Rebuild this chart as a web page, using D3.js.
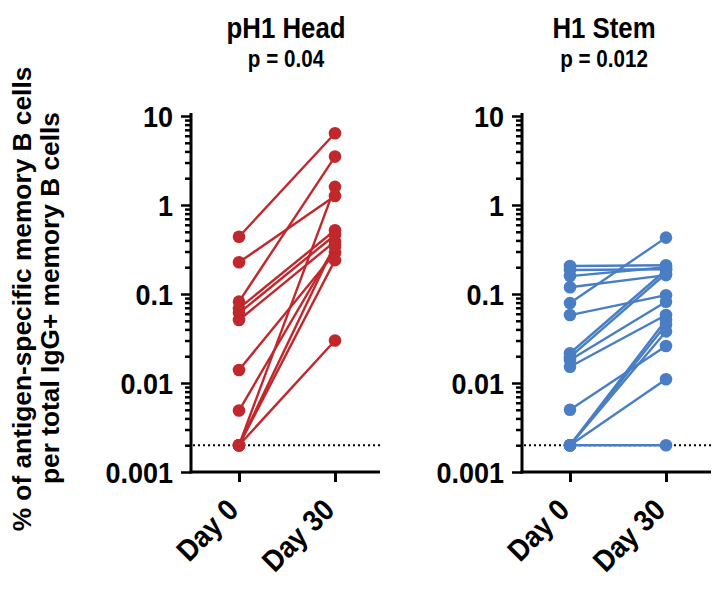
<!DOCTYPE html>
<html>
<head>
<meta charset="utf-8">
<script src="https://cdn.jsdelivr.net/npm/d3@7"></script>
<style>
  html, body { margin: 0; padding: 0; background: #fff; }
  svg { display: block; }
  text { font-family: "Liberation Sans", Arial, Helvetica, sans-serif; font-weight: bold; fill: #000; }
</style>
</head>
<body>
<svg id="chart" width="718" height="595"></svg>
<script>
// ---- data ----
const days = ["Day 0", "Day 30"];
const majorTicks = [10, 1, 0.1, 0.01, 0.001];
const majorTickLabels = ["10", "1", "0.1", "0.01", "0.001"];
const detectionLimit = 0.002;

const panelTitles = ["pH1 Head", "H1 Stem"];
const pValues = ["p = 0.04", "p = 0.012"];

const headDay0  = [0.44, 0.227, 0.082, 0.069, 0.061, 0.051, 0.014, 0.0049, 0.002, 0.002, 0.002, 0.002];
const headDay30 = [6.4,  1.26,  3.5,   0.52,  0.46,  0.39,  0.29,  0.34,   1.6,   0.24,  0.030, 0.36];

const stemDay0  = [0.206, 0.186, 0.159, 0.119, 0.079, 0.058, 0.0216, 0.0195, 0.0181, 0.0152, 0.005, 0.002, 0.002, 0.002, 0.002, 0.002];
const stemDay30 = [0.21,  0.19,  0.20,  0.163, 0.43,  0.097, 0.186,  0.17,   0.082,  0.058,  0.026, 0.002, 0.011, 0.038, 0.045, 0.051];

const colors = ["#c0282d", "#4a7ec4"];

// ---- layout ----
const svg = d3.select("#chart");
const yTop = 116, yBottom = 472;
const condTitle = 0.86, condTick = 0.9;
const panels = [
  { axisX: 191, endX: 380, x0: 239, x1: 335, titleX: 286, d0: headDay0, d30: headDay30, color: colors[0], title: panelTitles[0], p: pValues[0] },
  { axisX: 522, endX: 711, x0: 570, x1: 666, titleX: 604, d0: stemDay0, d30: stemDay30, color: colors[1], title: panelTitles[1], p: pValues[1] }
];

const y = d3.scaleLog().domain([0.001, 10]).range([yBottom, yTop]);
const minorTicks = [];
[0.001, 0.01, 0.1, 1].forEach(dec => { for (let k = 2; k <= 9; k++) minorTicks.push(dec * k); });

panels.forEach(P => {
  const g = svg.append("g");
  const x = d3.scalePoint().domain(days).range([P.x0, P.x1]);

  // titles
  g.append("text").attr("transform", `translate(${P.titleX},38) scale(${condTitle},1)`).attr("text-anchor", "middle")
    .style("font-size", "30px").text(P.title);
  g.append("text").attr("transform", `translate(${P.titleX},67) scale(${condTitle},1)`).attr("text-anchor", "middle")
    .style("font-size", "24px").text(P.p);

  // minor ticks
  const minorAxis = d3.axisLeft(y).tickValues(minorTicks).tickSize(6).tickFormat("");
  const gm = g.append("g").attr("transform", `translate(${P.axisX},0)`).call(minorAxis);
  gm.select(".domain").remove();
  gm.selectAll(".tick line").attr("stroke", "#000").attr("stroke-width", 2.5);

  // major ticks
  const majorAxis = d3.axisLeft(y).tickValues(majorTicks).tickSize(10).tickPadding(8)
    .tickFormat((d, i) => majorTickLabels[i]);
  const gM = g.append("g").attr("transform", `translate(${P.axisX},0)`).call(majorAxis);
  gM.select(".domain").remove();
  gM.selectAll(".tick line").attr("stroke", "#000").attr("stroke-width", 2.5);
  gM.selectAll(".tick text").attr("font-family", null)
    .attr("transform", `scale(${condTick},1)`).attr("x", -18 / condTick)
    .style("font-size", "30px").style("font-weight", "bold").attr("dy", "0.36em");

  // axis lines
  g.append("line").attr("x1", P.axisX).attr("x2", P.axisX).attr("y1", yTop - 3).attr("y2", yBottom + 1.5)
    .attr("stroke", "#000").attr("stroke-width", 3);
  g.append("line").attr("x1", P.axisX - 1.5).attr("x2", P.endX).attr("y1", yBottom).attr("y2", yBottom)
    .attr("stroke", "#000").attr("stroke-width", 3);

  // x axis ticks
  const xAxis = d3.axisBottom(x).tickSize(10).tickFormat("");
  const gx = g.append("g").attr("transform", `translate(0,${yBottom})`).call(xAxis);
  gx.select(".domain").remove();
  gx.selectAll(".tick line").attr("stroke", "#000").attr("stroke-width", 3);

  // x labels rotated
  g.selectAll("text.xl").data(days).enter().append("text").attr("class", "xl")
    .attr("transform", d => `translate(${x(d) + 1},${yBottom + 40}) rotate(-45) scale(${condTick},1)`)
    .attr("text-anchor", "end")
    .style("font-size", "30px").text(d => d);

  // detection limit dotted line
  g.append("line").attr("x1", P.axisX + 2).attr("x2", P.endX).attr("y1", y(detectionLimit)).attr("y2", y(detectionLimit))
    .attr("stroke", "#000").attr("stroke-width", 2).attr("stroke-dasharray", "2,3");

  // paired lines
  const pairs = P.d0.map((v, i) => [v, P.d30[i]]);
  g.selectAll("line.pair").data(pairs).enter().append("line").attr("class", "pair")
    .attr("x1", x(days[0])).attr("x2", x(days[1]))
    .attr("y1", d => y(d[0])).attr("y2", d => y(d[1]))
    .attr("stroke", P.color).attr("stroke-width", 2.4);

  // points
  g.selectAll("circle.d0").data(P.d0).enter().append("circle").attr("class", "d0")
    .attr("cx", x(days[0])).attr("cy", d => y(d)).attr("r", 6.3).attr("fill", P.color);
  g.selectAll("circle.d30").data(P.d30).enter().append("circle").attr("class", "d30")
    .attr("cx", x(days[1])).attr("cy", d => y(d)).attr("r", 6.3).attr("fill", P.color);
});

// y-axis title (two lines)
svg.append("text").attr("transform", "translate(31,299) rotate(-90)").attr("text-anchor", "middle")
  .style("font-size", "26.3px").text("% of antigen-specific memory B cells");
svg.append("text").attr("transform", "translate(59,298) rotate(-90)").attr("text-anchor", "middle")
  .style("font-size", "26.3px").text("per total IgG+ memory B cells");
</script>
</body>
</html>
